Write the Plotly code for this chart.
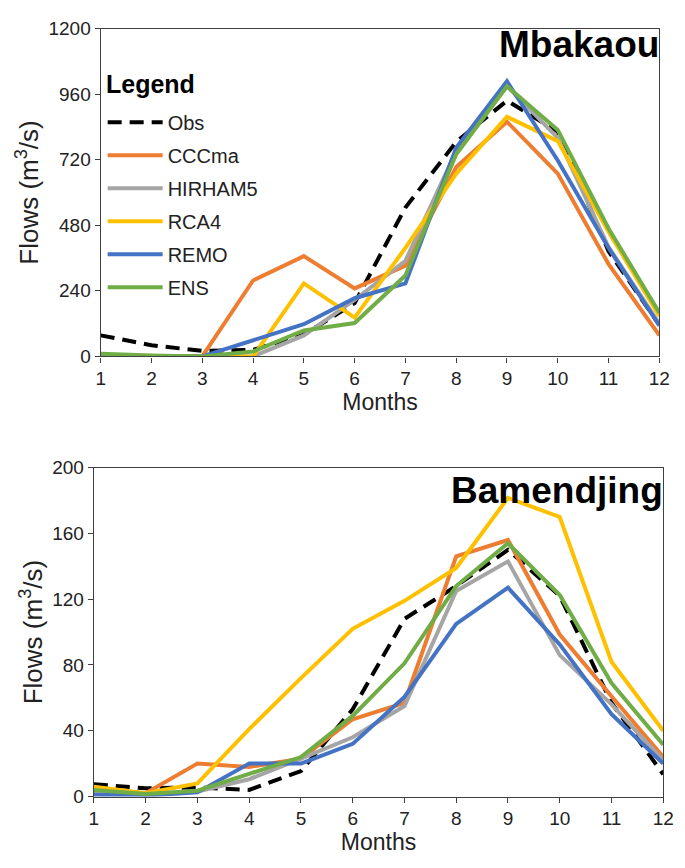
import plotly.graph_objects as go

months = list(range(1, 13))
series_names = ["Obs", "CCCma", "HIRHAM5", "RCA4", "REMO", "ENS"]

# Mbakaou
mb_obs = [77, 41, 20, 24, 80, 195, 545, 785, 936, 823, 385, 115]
mb_cccma = [5, 0, 0, 278, 367, 249, 332, 693, 859, 669, 338, 77]
mb_hirham5 = [5, 0, 0, 0, 77, 207, 350, 752, 989, 800, 400, 120]
mb_rca4 = [5, 0, 0, 0, 267, 142, 397, 669, 877, 788, 456, 148]
mb_remo = [5, 0, 0, 59, 118, 213, 267, 764, 1007, 717, 397, 113]
mb_ens = [10, 3, 0, 18, 95, 122, 296, 740, 989, 829, 468, 160]

# Bamendjing
bm_obs = [7.5, 5, 5.5, 4, 15.5, 53, 108, 128, 150, 122, 57, 13.5]
bm_cccma = [5, 2, 20, 18, 23, 47, 57, 146, 156, 98.5, 61, 24]
bm_hirham5 = [3, 1, 3, 10.5, 23, 36, 55, 125, 143, 86, 56, 22]
bm_rca4 = [6, 2, 8, 41, 72, 102, 119, 139, 181.6, 170, 82, 40]
bm_remo = [1, 0.5, 2.5, 20, 20, 32, 60.5, 105, 127, 92.5, 50, 20]
bm_ens = [4, 1.5, 3.5, 13.5, 24, 49, 81, 128, 154, 122.5, 69, 31.5]

y_ticks_top = [0, 240, 480, 720, 960, 1200]
y_ticks_bot = [0, 40, 80, 120, 160, 200]

colors = {"Obs": "#000000", "CCCma": "#ED7D31", "HIRHAM5": "#A5A5A5",
          "RCA4": "#FFC000", "REMO": "#4472C4", "ENS": "#70AD47"}

FONT = "Liberation Sans, Arial, sans-serif"

top_data = [mb_obs, mb_cccma, mb_hirham5, mb_rca4, mb_remo, mb_ens]
bot_data = [bm_obs, bm_cccma, bm_hirham5, bm_rca4, bm_remo, bm_ens]


def line_style(name):
    return dict(color=colors[name], width=4,
                dash="14px,8px" if name == "Obs" else "solid")


fig = go.Figure()
for name, ys in zip(series_names, top_data):
    fig.add_trace(go.Scatter(
        x=months, y=ys, mode="lines", name=name, xaxis="x", yaxis="y",
        legendgroup=name, line=line_style(name),
    ))
for name, ys in zip(series_names, bot_data):
    fig.add_trace(go.Scatter(
        x=months, y=ys, mode="lines", name=name, xaxis="x2", yaxis="y2",
        showlegend=False, legendgroup=name, line=line_style(name),
    ))

W, H = 685, 868
axis_common = dict(showline=True, linecolor="#404040", linewidth=1.3, mirror=True,
                   showgrid=False, zeroline=False, ticks="outside", ticklen=5,
                   tickcolor="#404040", tickfont=dict(family=FONT, size=19, color="#222"))

fig.update_layout(
    width=W, height=H, margin=dict(l=0, r=0, t=0, b=0),
    paper_bgcolor="white", plot_bgcolor="white",
    font=dict(family=FONT, color="#222"),
    xaxis=dict(domain=[98 / W, 670 / W], range=[1, 12], tickvals=months,
               title=dict(text="Months", font=dict(size=23), standoff=0),
               anchor="y", **axis_common),
    yaxis=dict(domain=[(H - 355) / H, (H - 19) / H], range=[0, 1200], tickvals=y_ticks_top,
               title=dict(text="Flows (m<sup>3</sup>/s)", font=dict(size=26), standoff=2),
               anchor="x", **axis_common),
    xaxis2=dict(domain=[91 / W, 674 / W], range=[1, 12], tickvals=months,
                title=dict(text="Months", font=dict(size=23), standoff=0),
                anchor="y2", **axis_common),
    yaxis2=dict(domain=[(H - 806) / H, (H - 469) / H], range=[0, 200], tickvals=y_ticks_bot,
                title=dict(text="Flows (m<sup>3</sup>/s)", font=dict(size=26), standoff=2),
                anchor="x2", **axis_common),
    legend=dict(x=100 / W, y=(H - 95) / H, xanchor="left", yanchor="top",
                bgcolor="rgba(0,0,0,0)", font=dict(family=FONT, size=20, color="#222"),
                itemwidth=55, tracegroupgap=4),
    annotations=[
        dict(text="<b>Legend</b>", xref="paper", yref="paper", x=101 / W, y=(H - 76) / H,
             xanchor="left", yanchor="middle", showarrow=False,
             font=dict(family=FONT, size=25, color="#000")),
        dict(text="<b>Mbakaou</b>", xref="x domain", yref="y domain", x=1.0, y=1.0,
             xanchor="right", yanchor="top", showarrow=False, xshift=2, yshift=7,
             font=dict(family=FONT, size=37, color="#000")),
        dict(text="<b>Bamendjing</b>", xref="x2 domain", yref="y2 domain", x=1.0, y=1.0,
             xanchor="right", yanchor="top", showarrow=False, xshift=2, yshift=0,
             font=dict(family=FONT, size=37, color="#000")),
    ],
)

fig.write_html("out.html")
